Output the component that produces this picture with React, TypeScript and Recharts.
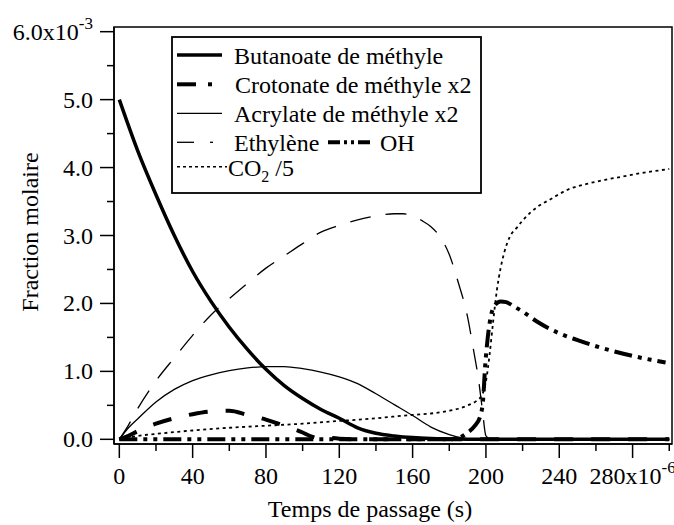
import React from "react";
import { LineChart, Line, XAxis, YAxis } from "recharts";

// ---- data (fractions molaires x 1e-3, temps x 1e-6 s) ----
const butT = [0, 10, 20, 30, 40, 50, 60, 70, 80, 90, 100, 110, 120, 130, 140, 150, 160, 170, 180, 190, 200, 250, 300];
const butV = [5.0, 4.25, 3.6, 3.0, 2.47, 2.03, 1.65, 1.32, 1.03, 0.79, 0.6, 0.44, 0.31, 0.17, 0.09, 0.05, 0.025, 0.012, 0.006, 0.002, 0, 0, 0];

const croT = [0, 5, 10, 20, 30, 40, 50, 60, 70, 80, 90, 100, 105, 110, 115, 120, 130, 300];
const croV = [0, 0.05, 0.12, 0.23, 0.31, 0.37, 0.41, 0.42, 0.36, 0.29, 0.2, 0.1, 0.04, 0.01, 0.02, 0.01, 0, 0];

const acrT = [0, 5, 10, 20, 30, 40, 50, 60, 70, 80, 90, 100, 110, 120, 130, 140, 150, 160, 170, 180, 187, 195, 300];
const acrV = [0, 0.17, 0.3, 0.55, 0.735, 0.865, 0.95, 1.01, 1.05, 1.07, 1.07, 1.04, 0.99, 0.92, 0.82, 0.67, 0.51, 0.35, 0.18, 0.07, 0.02, 0, 0];

const ethT = [0, 5, 10, 20, 30, 40, 50, 60, 70, 80, 90, 100, 110, 120, 130, 140, 150, 155, 160, 165, 170, 175, 180, 185, 190, 193, 196, 198, 200, 203, 300];
const ethV = [0, 0.21, 0.45, 0.86, 1.2, 1.53, 1.83, 2.07, 2.3, 2.52, 2.7, 2.88, 3.05, 3.15, 3.23, 3.29, 3.32, 3.32, 3.29, 3.22, 3.13, 2.98, 2.72, 2.3, 1.8, 1.35, 0.87, 0.45, 0.05, 0, 0];

const ohT = [0, 180, 185, 190, 194, 197, 198.5, 199.5, 201, 203, 205, 208, 211, 215, 220, 228, 240, 250, 260, 275, 290, 298];
const ohV = [0, 0, 0.02, 0.1, 0.2, 0.35, 0.6, 1.05, 1.5, 1.85, 1.98, 2.03, 2.02, 1.96, 1.88, 1.73, 1.56, 1.46, 1.37, 1.26, 1.17, 1.13];

const co2T = [0, 10, 20, 40, 60, 80, 100, 120, 140, 160, 170, 180, 185, 190, 195, 198, 200, 202, 204, 206, 208, 210, 213, 217, 220, 228, 235, 245, 255, 265, 275, 285, 295, 300];
const co2V = [0, 0.05, 0.08, 0.13, 0.17, 0.2, 0.23, 0.27, 0.31, 0.36, 0.38, 0.42, 0.45, 0.5, 0.57, 0.66, 0.85, 1.25, 1.75, 2.2, 2.52, 2.75, 2.98, 3.12, 3.22, 3.42, 3.53, 3.68, 3.76, 3.82, 3.87, 3.92, 3.96, 3.98];

const xTicks = [0, 20, 40, 60, 80, 100, 120, 140, 160, 180, 200, 220, 240, 260, 280, 300];
const yTicks = [0, 0.5, 1, 1.5, 2, 2.5, 3, 3.5, 4, 4.5, 5, 5.5, 6];
const yLabels: Record<number, string> = { 0: "0.0", 1: "1.0", 2: "2.0", 3: "3.0", 4: "4.0", 5: "5.0", 6: "6.0x10" };

const legendNames = [
  "Butanoate de méthyle",
  "Crotonate de méthyle x2",
  "Acrylate de méthyle x2",
  "Ethylène",
  "OH",
  "CO",
];

const mk = (t: number[], v: number[]) => t.map((x, i) => ({ t: x, v: v[i] }));

const FONT = "Liberation Serif, DejaVu Serif, serif";
const fstyle = { fontFamily: FONT };

const XTick = (props: any) => {
  const { x, y, payload } = props;
  const v = payload.value;
  const major = v % 40 === 0;
  return (
    <g>
      <line x1={x} x2={x} y1={y} y2={y + (major ? 14 : 7)} stroke="#000" strokeWidth={1.5} />
      {major && (
        <text x={x} y={484} textAnchor="middle" style={fstyle} fontSize={24} fill="#000">
          {v === 280 ? (
            <>
              280x10<tspan fontSize={17} dy={-11}>-6</tspan>
            </>
          ) : (
            String(v)
          )}
        </text>
      )}
    </g>
  );
};

const YTick = (props: any) => {
  const { x, y, payload } = props;
  const v = payload.value;
  const major = Number.isInteger(v);
  return (
    <g>
      <line x1={x - (major ? 14 : 7)} x2={x} y1={y} y2={y} stroke="#000" strokeWidth={1.5} />
      {major && (
        <text x={93} y={y + 8} textAnchor="end" style={fstyle} fontSize={24} fill="#000">
          {yLabels[v]}
          {v === 6 && (
            <tspan fontSize={17} dy={-11}>-3</tspan>
          )}
        </text>
      )}
    </g>
  );
};

export default function App() {
  return (
    <div style={{ position: "absolute", left: 0, top: 0, width: 674, height: 525, background: "#fff", fontFamily: FONT }}>
      <LineChart width={674} height={525} margin={{ top: 27, right: 2, bottom: 21, left: 14 }}>
        <XAxis
          dataKey="t"
          type="number"
          domain={[-2.9, 301.5]}
          allowDataOverflow
          ticks={xTicks}
          interval={0}
          tickSize={0}
          tickMargin={0}
          tick={<XTick />}
          height={60}
          axisLine={{ stroke: "#000", strokeWidth: 1.5 }}
        />
        <YAxis
          type="number"
          domain={[-0.069, 6.069]}
          allowDataOverflow
          ticks={yTicks}
          interval={0}
          tickSize={0}
          tickMargin={0}
          tick={<YTick />}
          width={100}
          axisLine={{ stroke: "#000", strokeWidth: 1.5 }}
        />
        <Line data={mk(butT, butV)} dataKey="v" type="monotone" stroke="#000" strokeWidth={3.5} dot={false} isAnimationActive={false} />
        <Line data={mk(croT, croV)} dataKey="v" type="monotone" stroke="#000" strokeWidth={4} strokeDasharray="19 18" dot={false} isAnimationActive={false} />
        <Line data={mk(acrT, acrV)} dataKey="v" type="monotone" stroke="#000" strokeWidth={1.3} dot={false} isAnimationActive={false} />
        <Line data={mk(ethT, ethV)} dataKey="v" type="monotone" stroke="#000" strokeWidth={1.3} strokeDasharray="21 15" dot={false} isAnimationActive={false} />
        <Line data={mk(ohT, ohV)} dataKey="v" type="monotone" stroke="#000" strokeWidth={4} strokeDasharray="18 6 4 6 4 6" dot={false} isAnimationActive={false} />
        <Line data={mk(co2T, co2V)} dataKey="v" type="monotone" stroke="#000" strokeWidth={1.8} strokeDasharray="3 3.5" dot={false} isAnimationActive={false} />
      </LineChart>
      <svg width={674} height={525} style={{ position: "absolute", left: 0, top: 0, pointerEvents: "none" }}>
        <rect x={114} y={27} width={558} height={417} fill="none" stroke="#000" strokeWidth={1.5} />
        <g style={fstyle} fontSize={24} fill="#000">
          <text x={370} y={517} textAnchor="middle">Temps de passage (s)</text>
          <text x={37.5} y={232} textAnchor="middle" transform="rotate(-90 37.5 232)">Fraction molaire</text>
        </g>
        <rect x={172} y={37} width={309} height={156} fill="#fff" stroke="#000" strokeWidth={1.8} />
        <g stroke="#000" fill="none">
          <line x1={177} x2={222} y1={55} y2={55} strokeWidth={3.5} />
          <line x1={177} x2={196} y1={84.3} y2={84.3} strokeWidth={4} />
          <line x1={208} x2={212} y1={84.3} y2={84.3} strokeWidth={4} />
          <line x1={177} x2={222} y1={113.3} y2={113.3} strokeWidth={1.3} />
          <line x1={177} x2={194} y1={142.3} y2={142.3} strokeWidth={1.3} />
          <line x1={210} x2={213} y1={142.3} y2={142.3} strokeWidth={1.3} />
          <line x1={328} x2={370} y1={142.3} y2={142.3} strokeWidth={4} strokeDasharray="12 4 3 4 3 4" />
          <line x1={177} x2={227} y1={166.7} y2={166.7} strokeWidth={1.5} strokeDasharray="3 3" />
        </g>
        <g style={fstyle} fontSize={24} fill="#000">
          <text x={234} y={64.3}>{legendNames[0]}</text>
          <text x={235} y={93.3}>{legendNames[1]}</text>
          <text x={234} y={122.3}>{legendNames[2]}</text>
          <text x={234} y={151}>{legendNames[3]}</text>
          <text x={380} y={151}>{legendNames[4]}</text>
          <text x={228} y={176}>
            {legendNames[5]}
            <tspan fontSize={16} dy={6}>2</tspan>
            <tspan dy={-6}> /5</tspan>
          </text>
        </g>
      </svg>
    </div>
  );
}
